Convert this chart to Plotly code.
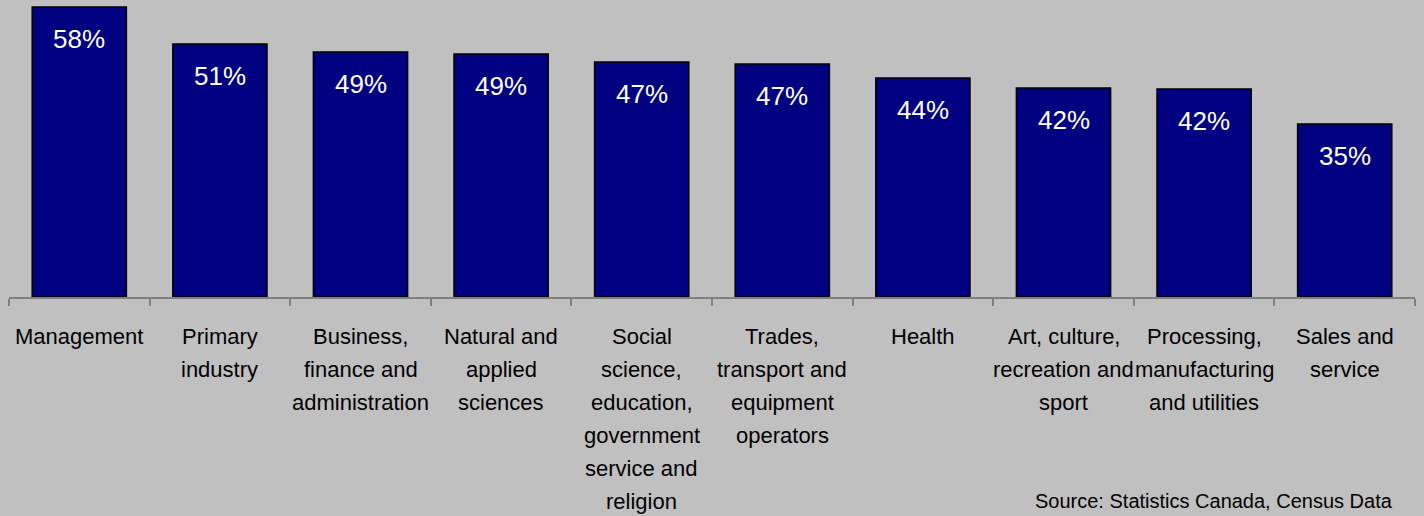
import plotly.graph_objects as go

categories = [
    "Management",
    "Primary<br>industry",
    "Business,<br>finance and<br>administration",
    "Natural and<br>applied<br>sciences",
    "Social<br>science,<br>education,<br>government<br>service and<br>religion",
    "Trades,<br>transport and<br>equipment<br>operators",
    "Health",
    "Art, culture,<br>recreation and<br>sport",
    "Processing,<br>manufacturing<br>and utilities",
    "Sales and<br>service",
]
values = [58.0, 50.6, 49.0, 48.6, 47.0, 46.6, 43.8, 41.8, 41.6, 34.6]
source_text = "Source: Statistics Canada, Census Data"

W, H = 1424, 516
ml, mr, mt, mb = 9, 9, 0, 219
FONT = "Liberation Sans, Arial"

fig = go.Figure()
fig.add_trace(go.Bar(
    x=categories,
    y=values,
    marker=dict(color="#000080", line=dict(color="#000000", width=1.5)),
    width=0.67,
    hoverinfo="skip",
))

# value labels inside bars
for cat, v in zip(categories, values):
    fig.add_annotation(
        x=cat, y=v, xref="x", yref="y",
        text=f"{round(v):.0f}%",
        showarrow=False, yanchor="top", yshift=-15,
        font=dict(family=FONT, size=26, color="#ffffff"),
    )

# category labels (one annotation per line for the wider line spacing)
for cat in categories:
    for k, line in enumerate(cat.split("<br>")):
        fig.add_annotation(
            x=cat, y=0, xref="x", yref="paper",
            text=line, showarrow=False, yanchor="middle",
            yshift=-(39 + 33 * k),
            font=dict(family=FONT, size=22, color="#000000"),
        )

fig.add_annotation(
    x=(1033 - ml) / (W - ml - mr), y=-(mb - 2) / (H - mt - mb),
    xref="paper", yref="paper",
    xanchor="left", yanchor="bottom", text=source_text, showarrow=False,
    font=dict(family=FONT, size=20, color="#000000"),
)

fig.update_layout(
    width=W, height=H,
    margin=dict(l=ml, r=mr, t=mt, b=mb, pad=0),
    paper_bgcolor="#c0c0c0",
    plot_bgcolor="#c0c0c0",
    showlegend=False,
    bargap=0.33,
    xaxis=dict(
        type="category",
        showticklabels=False,
        showline=True, linecolor="#808080", linewidth=1.5,
        ticks="outside", tickson="boundaries", ticklen=7, tickcolor="#808080", tickwidth=1.5,
        showgrid=False, zeroline=False,
    ),
    yaxis=dict(
        range=[0, 59.4], visible=False, showgrid=False, zeroline=False,
    ),
)

fig.write_html(
    "out.html",
    config={"displayModeBar": False},
    post_script="document.body.style.margin='0';document.body.style.background='#c0c0c0';",
)
